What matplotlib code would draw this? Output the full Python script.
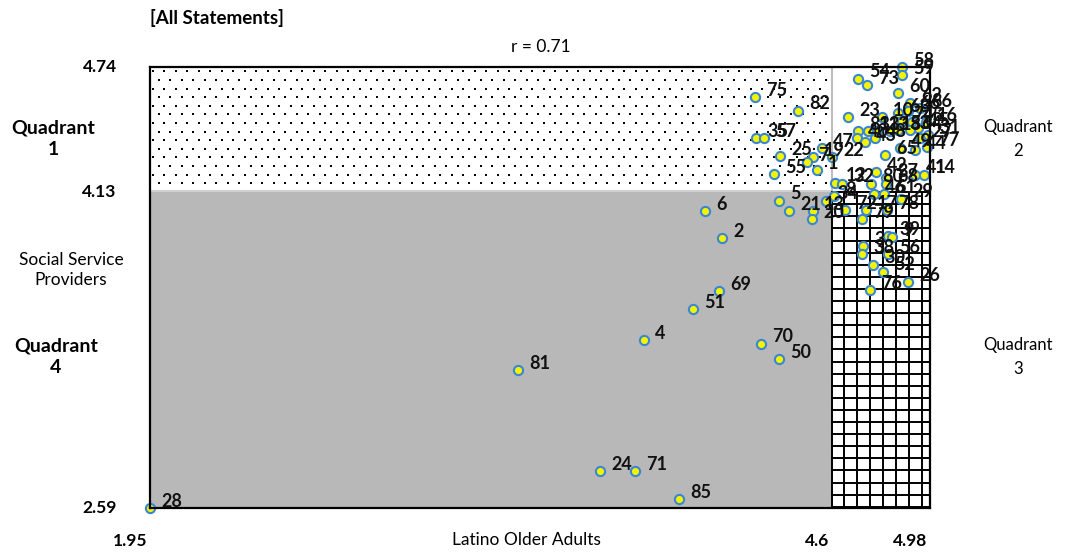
import numpy as np
import matplotlib
matplotlib.use("Agg")
import matplotlib.pyplot as plt
from matplotlib.patches import Rectangle

plt.rcParams['font.family'] = ['Lato', 'DejaVu Sans']

# statement ratings: Latino older adults (x) vs social service providers (y)
labels = [28, 85, 24, 71, 81, 4, 70, 50, 51, 69, 2, 6, 5, 21, 75, 82, 35, 57, 25, 55,
          58, 59, 54, 73, 60, 62, 66, 86, 63, 23, 10, 74, 45, 15, 16, 83, 11, 33, 40, 48,
          18, 53, 64, 27, 31, 47, 19, 7, 1, 22, 43, 49, 65, 44, 77, 42, 37, 80, 68, 41,
          14, 46, 61, 29, 12, 32, 8, 34, 13, 20, 72, 17, 78, 79, 39, 9, 3, 38, 56, 30,
          52, 26, 76]
older_adults = [1.95, 4.005, 3.698, 3.834, 3.380, 3.869, 4.324, 4.394, 4.060, 4.161,
                4.172, 4.106, 4.394, 4.433, 4.300, 4.467, 4.304, 4.335, 4.398, 4.374,
                4.872, 4.872, 4.701, 4.736, 4.856, 4.903, 4.895, 4.941, 4.856, 4.662,
                4.794, 4.872, 4.911, 4.934, 4.965, 4.701, 4.739, 4.774, 4.697, 4.767,
                4.825, 4.856, 4.903, 4.941, 4.972, 4.561, 4.526, 4.502, 4.541, 4.600,
                4.728, 4.864, 4.806, 4.922, 4.968, 4.771, 4.809, 4.751, 4.809, 4.922,
                4.957, 4.763, 4.802, 4.868, 4.611, 4.638, 4.607, 4.576, 4.526, 4.522,
                4.650, 4.732, 4.813, 4.716, 4.817, 4.833, 4.720, 4.716, 4.817, 4.759,
                4.798, 4.895, 4.747]
providers = [2.59, 2.634, 2.770, 2.770, 3.263, 3.409, 3.390, 3.316, 3.560, 3.648,
             3.906, 4.038, 4.087, 4.038, 4.594, 4.526, 4.394, 4.394, 4.306, 4.218,
             4.740, 4.701, 4.682, 4.652, 4.613, 4.565, 4.526, 4.540, 4.516, 4.496,
             4.496, 4.477, 4.472, 4.443, 4.472, 4.428, 4.428, 4.428, 4.394, 4.394,
             4.428, 4.433, 4.433, 4.394, 4.409, 4.345, 4.301, 4.277, 4.238, 4.301,
             4.374, 4.345, 4.311, 4.335, 4.350, 4.228, 4.199, 4.170, 4.170, 4.214,
             4.214, 4.121, 4.121, 4.097, 4.175, 4.170, 4.111, 4.087, 4.038, 3.999,
             4.043, 4.043, 4.043, 3.999, 3.916, 3.911, 3.867, 3.828, 3.828, 3.775,
             3.741, 3.692, 3.653]

x_min, x_mid, x_max = 1.95, 4.6, 4.98
y_min, y_mid, y_max = 2.59, 4.13, 4.74
r_value = 0.71

fig = plt.figure(figsize=(10.67, 5.52), dpi=100)
ax = fig.add_axes([150 / 1067, 44 / 552, 780 / 1067, 441 / 552])
ax.set_xlim(x_min, x_max)
ax.set_ylim(y_min, y_max)
ax.set_xticks([])
ax.set_yticks([])
for s in ax.spines.values():
    s.set_linewidth(1.6)
    s.set_color('black')
    s.set_zorder(6)

# quadrant 4: grey block
ax.add_patch(Rectangle((x_min, y_min), x_mid - x_min, y_mid - y_min,
                       facecolor='#b8b8b8', edgecolor='none', zorder=1))
ax.plot([x_min, x_mid], [y_mid + 0.006, y_mid + 0.006], color='#cfcfcf', lw=1.4, zorder=2)

# quadrant 1: staggered dot pattern
dx, dy = 11.5 / 257.4, 8.6 / 205.1
rows = np.arange(y_max - dy / 2, y_mid + 0.01, -dy)
dot_x, dot_y = [], []
for i, yy in enumerate(rows):
    xs = np.arange(x_min + dx * (0.25 + 0.5 * (i % 2)), x_mid - 0.01, dx)
    dot_x.extend(xs)
    dot_y.extend([yy] * len(xs))
ax.scatter(dot_x, dot_y, s=1.3, marker='s', color='black', linewidths=0, zorder=1)
ax.plot([x_mid, x_mid], [y_mid, y_max], color='#bdbdbd', lw=1.5, zorder=2)

# quadrant 3: square grid
for xv in np.arange(4.646, x_max - 0.01, 0.0505):
    ax.plot([xv, xv], [y_min, y_mid], color='black', lw=1.4, zorder=2)
for yv in np.arange(y_mid, y_min, -0.059):
    ax.plot([x_mid, x_max], [yv, yv], color='black', lw=1.4, zorder=2)
ax.plot([x_mid, x_mid], [y_min, y_mid], color='black', lw=1.4, zorder=2)

# statements
ax.scatter(older_adults, providers, s=44, facecolor='#f4f400', edgecolor='#3a86d4',
           linewidths=1.5, zorder=5, clip_on=False)
for lab, xv, yv in zip(labels, older_adults, providers):
    ax.annotate(str(lab), (xv, yv), xytext=(8, 5), textcoords='offset points',
                ha='left', va='center', fontsize=13, fontweight='bold',
                color='#111111', zorder=7, annotation_clip=False)

# axis values
for yv in [y_max, y_mid, y_min]:
    ax.annotate(f'{yv:.2f}', (x_min, yv), xytext=(-24, 0), textcoords='offset points',
                ha='right', va='center', fontsize=12.5, fontweight='bold',
                annotation_clip=False)
for xv, txt in [(x_min, '1.95'), (x_mid, '4.6'), (x_max, '4.98')]:
    ax.annotate(txt, (xv, y_min), xytext=(-2, -24), textcoords='offset points',
                ha='right', va='center', fontsize=12.5, fontweight='bold',
                annotation_clip=False)

fig.text(150 / 1067, 1 - 18 / 552, '[All Statements]', ha='left', va='center',
         fontsize=13.5, fontweight='bold')
fig.text(541 / 1067, 1 - 47 / 552, f'r = {r_value}', ha='center', va='center', fontsize=12.5)
fig.text(526 / 1067, 1 - 540 / 552, 'Latino Older Adults', ha='center', va='center',
         fontsize=12.5)
fig.text(71 / 1067, 1 - 270 / 552, 'Social Service\nProviders', ha='center', va='center',
         fontsize=12.5, linespacing=1.3)
fig.text(53 / 1067, 1 - 139 / 552, 'Quadrant\n1', ha='center', va='center',
         fontsize=14, fontweight='bold', linespacing=1.35)
fig.text(56 / 1067, 1 - 357 / 552, 'Quadrant\n4', ha='center', va='center',
         fontsize=14, fontweight='bold', linespacing=1.35)
fig.text(1018 / 1067, 1 - 139 / 552, 'Quadrant\n2', ha='center', va='center',
         fontsize=12, linespacing=1.6)
fig.text(1018 / 1067, 1 - 357 / 552, 'Quadrant\n3', ha='center', va='center',
         fontsize=12, linespacing=1.6)

fig.savefig('out.png', dpi=100, facecolor='white')
